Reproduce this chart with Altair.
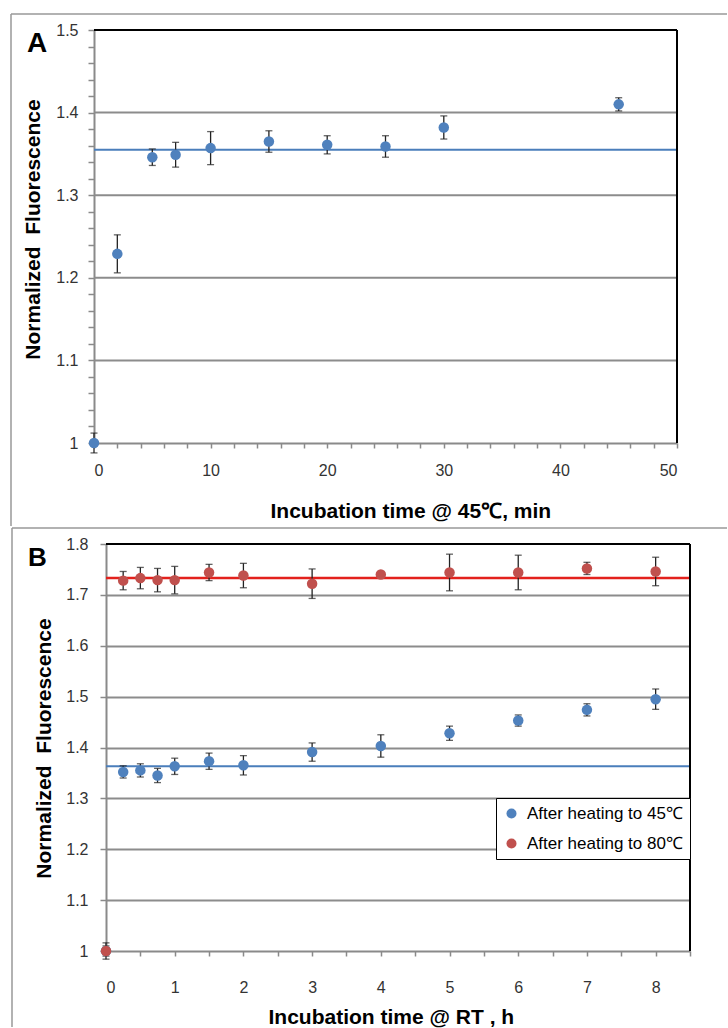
import altair as alt
import pandas as pd

FONT = "Liberation Sans"

# ---------------- Panel A data ----------------
a_time = [0, 2, 5, 7, 10, 15, 20, 25, 30, 45]
a_value = [1.000, 1.229, 1.346, 1.349, 1.357, 1.365, 1.361, 1.359, 1.382, 1.410]
a_err = [0.012, 0.023, 0.010, 0.015, 0.020, 0.013, 0.011, 0.013, 0.014, 0.008]
a_mean = [1.355]
a_xticks = [0, 2, 4, 6, 8, 10, 12, 14, 16, 18, 20, 22, 24, 26, 28, 30, 32, 34, 36, 38, 40, 42, 44, 46, 48, 50]
a_yticks = [1.0, 1.02, 1.04, 1.06, 1.08, 1.1, 1.12, 1.14, 1.16, 1.18, 1.2, 1.22, 1.24, 1.26, 1.28,
            1.3, 1.32, 1.34, 1.36, 1.38, 1.4, 1.42, 1.44, 1.46, 1.48, 1.5]
a_grid = [1.1, 1.2, 1.3, 1.4]

# ---------------- Panel B data ----------------
b_time = [0, 0.25, 0.5, 0.75, 1, 1.5, 2, 3, 4, 5, 6, 7, 8]
b45_value = [1.000, 1.352, 1.355, 1.345, 1.363, 1.373, 1.365, 1.391, 1.403, 1.428, 1.453, 1.474, 1.495]
b45_err = [0.010, 0.012, 0.013, 0.014, 0.016, 0.016, 0.019, 0.018, 0.022, 0.014, 0.011, 0.012, 0.020]
b80_value = [1.000, 1.728, 1.733, 1.729, 1.729, 1.744, 1.738, 1.722, 1.740, 1.744, 1.744, 1.752, 1.746]
b80_err = [0.016, 0.018, 0.021, 0.023, 0.027, 0.016, 0.024, 0.029, 0.005, 0.036, 0.034, 0.012, 0.028]
b45_mean = [1.363]
b80_mean = [1.733]
b_series = ["After heating to 45℃", "After heating to 80℃"]
b_xticks = [0, 0.5, 1, 1.5, 2, 2.5, 3, 3.5, 4, 4.5, 5, 5.5, 6, 6.5, 7, 7.5, 8, 8.5]
b_yticks = [1.0, 1.1, 1.2, 1.3, 1.4, 1.5, 1.6, 1.7, 1.8]

Y_TITLE = "Normalized\u00a0 Fluorescence"

BLUE = "#4F81BD"
RED = "#C0504D"
BLUE_LINE = "#4A7EBB"
RED_LINE = "#E3211C"
GRID = "#8c8c8c"
AXIS = "#8a8a8a"
ERR = "#222222"
FRAME = "#999999"
PT = 110

one = pd.DataFrame({"k": [0]})

# ================= Panel A =================
# Both panels share the same plot origin in the column layout; panel A's data
# rectangle is drawn 12 px to the left of that origin through its scale range.
SH = 12
WA, HA = 583 - SH, 413
dfA = pd.DataFrame({
    "t": a_time,
    "v": a_value,
    "lo": [v - e for v, e in zip(a_value, a_err)],
    "hi": [v + e for v, e in zip(a_value, a_err)],
})

major_test_A = "abs(datum.value*10 - round(datum.value*10)) < 0.001"
axisA_y = alt.Axis(
    values=a_yticks,
    labelExpr=f"{major_test_A} ? format(datum.value, '.2~f') : ''",
    grid=False,
    offset=SH,
    title=Y_TITLE,
    titleX=-55, titleY=199, titleAngle=-90, titleAlign="center", titleBaseline="alphabetic",
    labelPadding=10, tickSize=6,
)
axisA_x = alt.Axis(
    values=a_xticks,
    labelExpr="datum.value % 10 == 0 ? format(datum.value, 'd') : ''",
    grid=False,
    title="Incubation time @ 45℃, min",
    titleX=164, titleY=74, titleAlign="left", titleBaseline="alphabetic",
    labelPadding=14, tickSize=5,
)
scA_y = alt.Scale(domain=[1.0, 1.5], nice=False, zero=False)
scA_x = alt.Scale(domain=[0, 50], range=[-SH, WA], nice=False, zero=False)

def yA(f):
    return alt.Y(f, scale=scA_y, axis=axisA_y)

def xA(f):
    return alt.X(f, scale=scA_x, axis=axisA_x)

baseA = alt.Chart(dfA)
gridA = alt.Chart(pd.DataFrame({"g": a_grid})).mark_rule(color=GRID, strokeWidth=2).encode(
    y=yA("g:Q"), x=alt.value(-SH), x2=alt.value(WA))
refA = alt.Chart(pd.DataFrame({"m": a_mean})).mark_rule(color=BLUE_LINE, strokeWidth=2).encode(
    y=yA("m:Q"), x=alt.value(-SH), x2=alt.value(WA))
errA = baseA.mark_rule(color=ERR, strokeWidth=1.3).encode(x=xA("t:Q"), y=yA("lo:Q"), y2="hi:Q")
capA1 = baseA.mark_tick(color=ERR, orient="horizontal", size=7, thickness=1.3).encode(x=xA("t:Q"), y=yA("hi:Q"))
capA2 = baseA.mark_tick(color=ERR, orient="horizontal", size=7, thickness=1.3).encode(x=xA("t:Q"), y=yA("lo:Q"))
ptsA = baseA.mark_circle(size=PT, opacity=1, color=BLUE).encode(x=xA("t:Q"), y=yA("v:Q"))

borderA_top = alt.Chart(one).mark_rule(color="black", strokeWidth=2).encode(x=alt.value(-SH), x2=alt.value(WA), y=alt.value(0))
borderA_right = alt.Chart(one).mark_rule(color="black", strokeWidth=2).encode(x=alt.value(WA), y=alt.value(0), y2=alt.value(HA))
frameA_top = alt.Chart(one).mark_rule(color=FRAME, strokeWidth=1.5).encode(x=alt.value(-95), x2=alt.value(621), y=alt.value(-16))
frameA_left = alt.Chart(one).mark_rule(color=FRAME, strokeWidth=1.5).encode(x=alt.value(-95), y=alt.value(-16), y2=alt.value(496))
letterA = alt.Chart(pd.DataFrame({"s": ["A"]})).mark_text(
    font=FONT, fontSize=28, fontWeight="bold", align="left", baseline="alphabetic", color="black"
).encode(text="s:N", x=alt.value(-79), y=alt.value(22))

chartA = alt.layer(
    frameA_top, frameA_left, gridA, refA, errA, capA1, capA2, ptsA, borderA_top, borderA_right, letterA
).properties(width=WA, height=HA)

# ================= Panel B =================
WB, HB = 584, 407
dfB = pd.DataFrame({
    "t": b_time + b_time,
    "v": b45_value + b80_value,
    "e": b45_err + b80_err,
    "s": [b_series[0]] * len(b_time) + [b_series[1]] * len(b_time),
})
dfB["lo"] = dfB["v"] - dfB["e"]
dfB["hi"] = dfB["v"] + dfB["e"]

axisB_y = alt.Axis(
    values=b_yticks,
    labelExpr="format(datum.value, '.2~f')",
    gridOpacity={"condition": {"test": "datum.value > 1.01 && datum.value < 1.79", "value": 1}, "value": 0},
    grid=True,
    title=Y_TITLE,
    titleX=-56, titleY=204, titleAngle=-90, titleAlign="center", titleBaseline="alphabetic",
    labelPadding=12, tickSize=6,
)
axisB_x = alt.Axis(
    values=b_xticks,
    labelExpr="datum.value % 1 == 0 && datum.value <= 8 ? format(datum.value, 'd') : ''",
    grid=False,
    title="Incubation time @ RT , h",
    titleX=162, titleY=72, titleAlign="left", titleBaseline="alphabetic",
    labelPadding=23, tickSize=5,
)
scB_y = alt.Scale(domain=[1.0, 1.8], nice=False, zero=False)
scB_x = alt.Scale(domain=[0, 8.5], nice=False, zero=False)

def yB(f):
    return alt.Y(f, scale=scB_y, axis=axisB_y)

def xB(f):
    return alt.X(f, scale=scB_x, axis=axisB_x)

baseB = alt.Chart(dfB)
refB45 = alt.Chart(pd.DataFrame({"m": b45_mean})).mark_rule(color=BLUE_LINE, strokeWidth=2).encode(y=yB("m:Q"))
refB80 = alt.Chart(pd.DataFrame({"m": b80_mean})).mark_rule(color=RED_LINE, strokeWidth=2.5).encode(y=yB("m:Q"))
errB = baseB.mark_rule(color=ERR, strokeWidth=1.3).encode(x=xB("t:Q"), y=yB("lo:Q"), y2="hi:Q")
capB1 = baseB.mark_tick(color=ERR, orient="horizontal", size=7, thickness=1.3).encode(x=xB("t:Q"), y=yB("hi:Q"))
capB2 = baseB.mark_tick(color=ERR, orient="horizontal", size=7, thickness=1.3).encode(x=xB("t:Q"), y=yB("lo:Q"))
ptsB = baseB.mark_circle(size=PT, opacity=1).encode(
    x=xB("t:Q"), y=yB("v:Q"),
    color=alt.Color("s:N", scale=alt.Scale(domain=b_series, range=[BLUE, RED]),
                    legend=alt.Legend(
                        orient="none", legendX=390, legendY=254, title=None,
                        symbolType="circle", symbolSize=100, symbolStrokeWidth=0,
                        labelFont=FONT, labelFontSize=17, labelColor="black",
                        strokeColor="black", fillColor="white",
                        padding=7, rowPadding=12, labelOffset=7,
                    )),
    order=alt.Order("s:N", sort="ascending"),
)

borderB_top = alt.Chart(one).mark_rule(color="black", strokeWidth=2).encode(x=alt.value(0), x2=alt.value(WB), y=alt.value(0))
borderB_right = alt.Chart(one).mark_rule(color="black", strokeWidth=2).encode(x=alt.value(WB), y=alt.value(0), y2=alt.value(HB))
frameB_top = alt.Chart(one).mark_rule(color=FRAME, strokeWidth=1.5).encode(x=alt.value(-94), x2=alt.value(621), y=alt.value(-16))
frameB_left = alt.Chart(one).mark_rule(color=FRAME, strokeWidth=1.5).encode(x=alt.value(-94), y=alt.value(-16), y2=alt.value(483))
letterB = alt.Chart(pd.DataFrame({"s": ["B"]})).mark_text(
    font=FONT, fontSize=26, fontWeight="bold", align="left", baseline="alphabetic", color="black"
).encode(text="s:N", x=alt.value(-78), y=alt.value(22))

chartB = alt.layer(
    frameB_top, frameB_left, refB45, refB80, errB, capB1, capB2, ptsB, borderB_top, borderB_right, letterB
).properties(width=WB, height=HB)

chart = alt.vconcat(chartA, chartB, spacing=0).resolve_legend(
    color="independent"
).properties(
    padding={"left": 10, "top": 13, "right": 0, "bottom": 0},
    background="white",
).configure_view(stroke=None).configure_axis(
    domainColor=AXIS, domainWidth=2,
    tickColor=AXIS, tickWidth=1.5,
    labelFont=FONT, labelFontSize=16, labelColor="#333333",
    titleFont=FONT, titleFontSize=21, titleFontWeight="bold", titleColor="black",
    gridColor=GRID, gridWidth=2,
)

chart.save("out.html", embed_options={"renderer": "svg", "actions": False})
